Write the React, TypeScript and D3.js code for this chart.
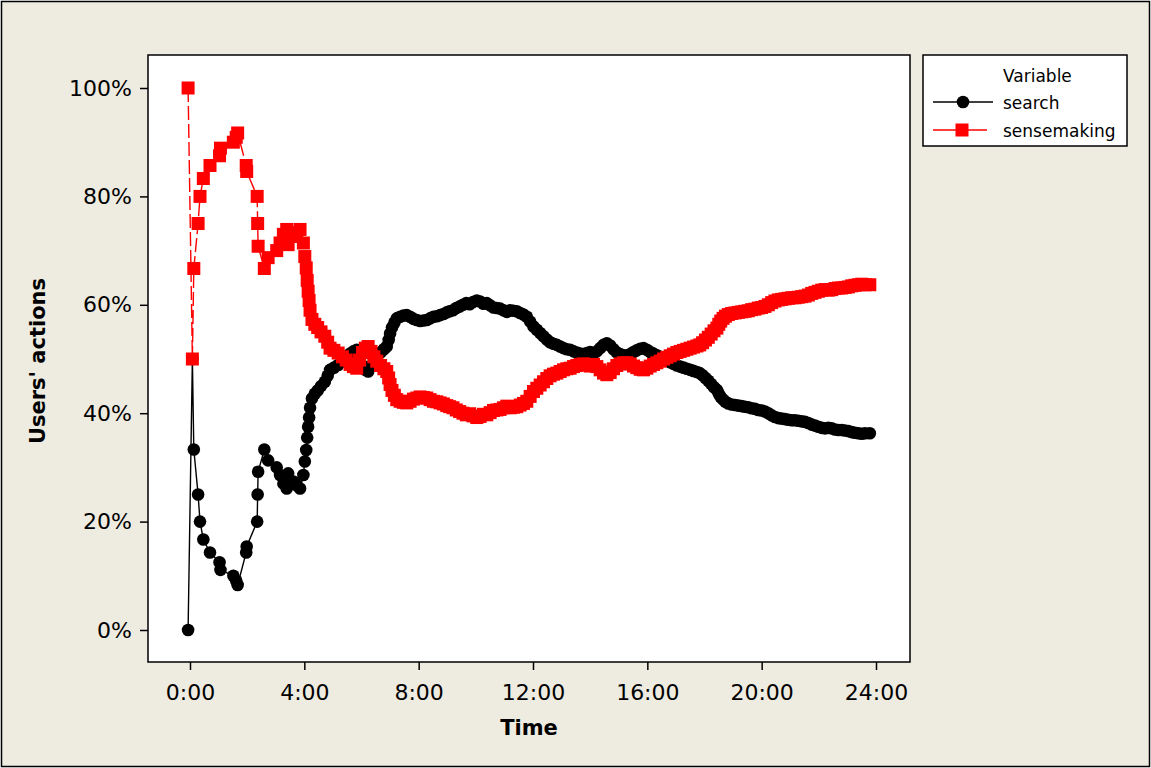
import { useRef, useEffect } from 'react'
import * as d3 from 'd3'

// time of each observation, in minutes after 0:00
const times = [
  -4, 5, 8, 17, 21, 28, 42, 62, 64, 91,
  97, 100, 118, 119, 141, 142, 143, 156, 164, 182,
  189, 196, 203, 206, 217, 224, 231, 238, 241, 244,
  246, 248, 250, 252,
  256, 262, 268, 275, 283, 289, 294, 302, 311, 320,
  328, 336, 343, 350, 356, 362, 368, 374, 380, 386,
  392, 400, 407, 413, 417, 420, 424, 429, 434, 441,
  448, 455, 462, 469, 476, 483, 490, 497, 504, 511,
  518, 525, 532, 539, 545, 552, 559, 566, 573, 580,
  587, 594, 602, 609, 616, 623, 630, 637, 644, 651,
  658, 665, 672, 679, 686, 693, 700, 707, 714, 721,
  728, 735, 742, 749, 756, 763, 770, 777, 784, 791,
  798, 805, 812, 819, 826, 833, 840, 847, 854, 861,
  868, 875, 882, 889, 896, 903, 910, 917, 924, 931,
  938, 945, 952, 959, 966, 973, 980, 987, 994, 1001,
  1008, 1015, 1022, 1029, 1036, 1043, 1050, 1057, 1064, 1070,
  1076, 1082, 1088, 1094, 1100, 1106, 1110, 1114, 1119, 1124,
  1130, 1137, 1144, 1151, 1158, 1165, 1172, 1179, 1186, 1193,
  1200, 1207, 1214, 1221, 1228, 1235, 1242, 1249, 1256, 1263,
  1270, 1277, 1284, 1291, 1298, 1305, 1312, 1319, 1326, 1333,
  1340, 1347, 1354, 1361, 1368, 1375, 1382, 1389, 1396, 1403,
  1410, 1417, 1427,
]

// share of search actions (%)
const search = [
  0, 50, 33.3, 25, 20, 16.7, 14.3, 12.5, 11.1, 10,
  9.1, 8.3, 14.3, 15.4, 20, 25, 29.2, 33.3, 31.3, 30,
  28.6, 27, 26.1, 28.9, 27.4, 26.7, 26.1, 28.6, 31.1, 33.2,
  35.5, 37.5, 39.2, 41,
  42.7, 43.6, 44.2, 45.0, 45.8, 46.9, 48.0, 48.4, 48.9, 49.6,
  50.2, 51.0, 51.4, 51.7, 50.2, 48.8, 48.0, 47.7, 48.6, 49.6,
  50.4, 51.2, 51.8, 52.3, 53.5, 54.7, 55.8, 56.7, 57.5, 57.8,
  58.0, 58.1, 57.8, 57.4, 57.2, 57.0, 57.1, 57.2, 57.5, 57.8,
  57.9, 58.1, 58.3, 58.6, 58.8, 59.0, 59.4, 59.7, 60.0, 60.3,
  60.1, 60.5, 60.8, 60.6, 60.2, 60.3, 59.9, 59.5, 59.4, 59.3,
  59.0, 58.7, 59.0, 58.9, 58.8, 58.5, 58.2, 57.8, 56.9, 56.0,
  55.4, 54.8, 54.2, 53.6, 53.1, 52.8, 52.6, 52.3, 52.0, 51.8,
  51.7, 51.4, 51.2, 51.0, 50.9, 51.1, 51.3, 51.0, 51.4, 52.0,
  52.6, 52.9, 52.5, 51.8, 51.2, 50.9, 50.7, 50.7, 50.9, 51.3,
  51.6, 51.9, 52.0, 51.7, 51.3, 51.0, 50.7, 50.4, 50.0, 49.7,
  49.4, 49.1, 48.8, 48.6, 48.4, 48.2, 48.0, 47.8, 47.6, 47.4,
  47.0, 46.5, 46.0, 45.4, 44.8, 44.3, 43.6, 43.0, 42.5, 42.1,
  41.8, 41.6, 41.5, 41.4, 41.3, 41.2, 41.1, 40.9, 40.8, 40.6,
  40.5, 40.3, 40.0, 39.6, 39.3, 39.1, 39.0, 38.9, 38.8, 38.7,
  38.7, 38.6, 38.5, 38.4, 38.2, 37.9, 37.7, 37.5, 37.3, 37.2,
  37.3, 37.2, 37.0, 36.9, 36.9, 36.8, 36.7, 36.5, 36.4, 36.3,
  36.2, 36.3, 36.3,
]

// share of sensemaking actions (%)
const sensemaking = [
  100, 50, 66.7, 75, 80, 83.3, 85.7, 87.5, 88.9, 90,
  90.9, 91.7, 85.7, 84.6, 80, 75, 70.8, 66.7, 68.7, 70,
  71.4, 73, 73.9, 71.1, 72.6, 73.3, 73.9, 71.4, 68.9, 66.8,
  64.5, 62.5, 60.8, 59,
  57.3, 56.4, 55.8, 55.0, 54.2, 53.1, 52.0, 51.6, 51.1, 50.4,
  49.8, 49.0, 48.6, 48.3, 49.8, 51.2, 52.0, 52.3, 51.4, 50.4,
  49.6, 48.8, 48.2, 47.7, 46.5, 45.3, 44.2, 43.3, 42.5, 42.2,
  42.0, 41.9, 42.2, 42.6, 42.8, 43.0, 42.9, 42.8, 42.5, 42.2,
  42.1, 41.9, 41.7, 41.4, 41.2, 41.0, 40.6, 40.3, 40.0, 39.7,
  39.9, 39.5, 39.2, 39.4, 39.8, 39.7, 40.1, 40.5, 40.6, 40.7,
  41.0, 41.3, 41.0, 41.1, 41.2, 41.5, 41.8, 42.2, 43.1, 44.0,
  44.6, 45.2, 45.8, 46.4, 46.9, 47.2, 47.4, 47.7, 48.0, 48.2,
  48.3, 48.6, 48.8, 49.0, 49.1, 48.9, 48.7, 49.0, 48.6, 48.0,
  47.4, 47.1, 47.5, 48.2, 48.8, 49.1, 49.3, 49.3, 49.1, 48.7,
  48.4, 48.1, 48.0, 48.3, 48.7, 49.0, 49.3, 49.6, 50.0, 50.3,
  50.6, 50.9, 51.2, 51.4, 51.6, 51.8, 52.0, 52.2, 52.4, 52.6,
  53.0, 53.5, 54.0, 54.6, 55.2, 55.7, 56.4, 57.0, 57.5, 57.9,
  58.2, 58.4, 58.5, 58.6, 58.7, 58.8, 58.9, 59.1, 59.2, 59.4,
  59.5, 59.7, 60.0, 60.4, 60.7, 60.9, 61.0, 61.1, 61.2, 61.3,
  61.3, 61.4, 61.5, 61.6, 61.8, 62.1, 62.3, 62.5, 62.7, 62.8,
  62.7, 62.8, 63.0, 63.1, 63.1, 63.2, 63.3, 63.5, 63.6, 63.7,
  63.8, 63.7, 63.7,
]

const xTicks = [0, 240, 480, 720, 960, 1200, 1440]
const yTicks = [0, 20, 40, 60, 80, 100]
const seriesNames = ['search', 'sensemaking']

const WIDTH = 1151
const HEIGHT = 768
const FONT = '"DejaVu Sans", Verdana, sans-serif'

export default function App() {
  const svgRef = useRef<SVGSVGElement>(null)

  useEffect(() => {
    if (!svgRef.current) return
    const svg = d3.select(svgRef.current)
    svg.selectAll('*').remove()

    const frame = { left: 148, top: 55, right: 910, bottom: 662 }

    const x = d3.scaleLinear().domain([0, 1440]).range([190, 876])
    const y = d3.scaleLinear().domain([0, 100]).range([630, 88])

    // background + outer border
    svg.append('rect')
      .attr('x', 1.5).attr('y', 1.5)
      .attr('width', WIDTH - 3).attr('height', HEIGHT - 3)
      .attr('fill', '#eeebe1')
      .attr('stroke', '#000')
      .attr('stroke-width', 1.5)

    // plot area
    svg.append('rect')
      .attr('x', frame.left).attr('y', frame.top)
      .attr('width', frame.right - frame.left)
      .attr('height', frame.bottom - frame.top)
      .attr('fill', '#fff')

    // Axes
    const yAxis = svg.append('g')
      .attr('transform', `translate(${frame.left},0)`)
      .call(d3.axisLeft(y).tickValues(yTicks).tickSize(8).tickPadding(8).tickFormat(d => `${d}%`))
    const xAxis = svg.append('g')
      .attr('transform', `translate(0,${frame.bottom})`)
      .call(d3.axisBottom(x).tickValues(xTicks).tickSize(8).tickPadding(14)
        .tickFormat(d => `${Math.floor(+d / 60)}:${String(+d % 60).padStart(2, '0')}`))

    for (const ax of [yAxis, xAxis]) {
      ax.select('.domain').remove()
      ax.selectAll('.tick line').attr('stroke', '#000').attr('stroke-width', 1.5)
      ax.selectAll('.tick text')
        .attr('fill', '#000')
        .attr('font-size', 22)
        .attr('font-family', FONT)
    }

    const n = Math.min(times.length, search.length, sensemaking.length)
    const rows = d3.range(n).map(i => ({ t: times[i], s: search[i], m: sensemaking[i] }))

    const plot = svg.append('g')

    // search series
    const lineS = d3.line<typeof rows[0]>().x(d => x(d.t)).y(d => y(d.s))
    plot.append('path')
      .datum(rows)
      .attr('d', lineS)
      .attr('fill', 'none')
      .attr('stroke', '#000')
      .attr('stroke-width', 1.4)
    plot.selectAll('.dot-search')
      .data(rows)
      .enter()
      .append('circle')
      .attr('cx', d => x(d.t))
      .attr('cy', d => y(d.s))
      .attr('r', 6.3)
      .attr('fill', '#000')

    // sensemaking series
    const lineM = d3.line<typeof rows[0]>().x(d => x(d.t)).y(d => y(d.m))
    plot.append('path')
      .datum(rows)
      .attr('d', lineM)
      .attr('fill', 'none')
      .attr('stroke', '#ff0000')
      .attr('stroke-width', 1.4)
      .attr('stroke-dasharray', '14 4')
    const sq = 13
    plot.selectAll('.sq-sense')
      .data(rows)
      .enter()
      .append('rect')
      .attr('x', d => x(d.t) - sq / 2)
      .attr('y', d => y(d.m) - sq / 2)
      .attr('width', sq)
      .attr('height', sq)
      .attr('fill', '#ff0000')

    // plot frame on top
    svg.append('rect')
      .attr('x', frame.left).attr('y', frame.top)
      .attr('width', frame.right - frame.left)
      .attr('height', frame.bottom - frame.top)
      .attr('fill', 'none')
      .attr('stroke', '#000')
      .attr('stroke-width', 1.5)

    // Axis titles
    svg.append('text')
      .attr('x', (frame.left + frame.right) / 2)
      .attr('y', 735)
      .attr('text-anchor', 'middle')
      .attr('font-family', FONT)
      .attr('font-weight', 'bold')
      .attr('font-size', 21)
      .text('Time')

    svg.append('text')
      .attr('transform', 'translate(45,361) rotate(-90)')
      .attr('text-anchor', 'middle')
      .attr('font-family', FONT)
      .attr('font-weight', 'bold')
      .attr('font-size', 21)
      .text("Users' actions")

    // Legend
    const legend = svg.append('g').attr('transform', 'translate(923,55)')
    legend.append('rect')
      .attr('width', 204).attr('height', 91)
      .attr('fill', '#fff')
      .attr('stroke', '#000')
      .attr('stroke-width', 1.5)
    legend.append('text')
      .attr('x', 80).attr('y', 27)
      .attr('font-family', FONT).attr('font-size', 17)
      .text('Variable')

    seriesNames.forEach((name, i) => {
      const cy = 47 + i * 28
      const color = i === 0 ? '#000' : '#ff0000'
      legend.append('line')
        .attr('x1', 10).attr('x2', i === 0 ? 70 : 64)
        .attr('y1', cy).attr('y2', cy)
        .attr('stroke', color).attr('stroke-width', 1.4)
      if (i === 0) {
        legend.append('circle').attr('cx', 40).attr('cy', cy).attr('r', 6.3).attr('fill', color)
      } else {
        legend.append('rect').attr('x', 39 - 6.5).attr('y', cy - 6.5)
          .attr('width', 13).attr('height', 13).attr('fill', color)
      }
      legend.append('text')
        .attr('x', 80).attr('y', cy + 7)
        .attr('font-family', FONT).attr('font-size', 17)
        .text(name)
    })
  }, [])

  return (
    <svg
      ref={svgRef}
      width={WIDTH}
      height={HEIGHT}
      style={{ position: 'absolute', left: 0, top: 0, display: 'block' }}
    />
  )
}
